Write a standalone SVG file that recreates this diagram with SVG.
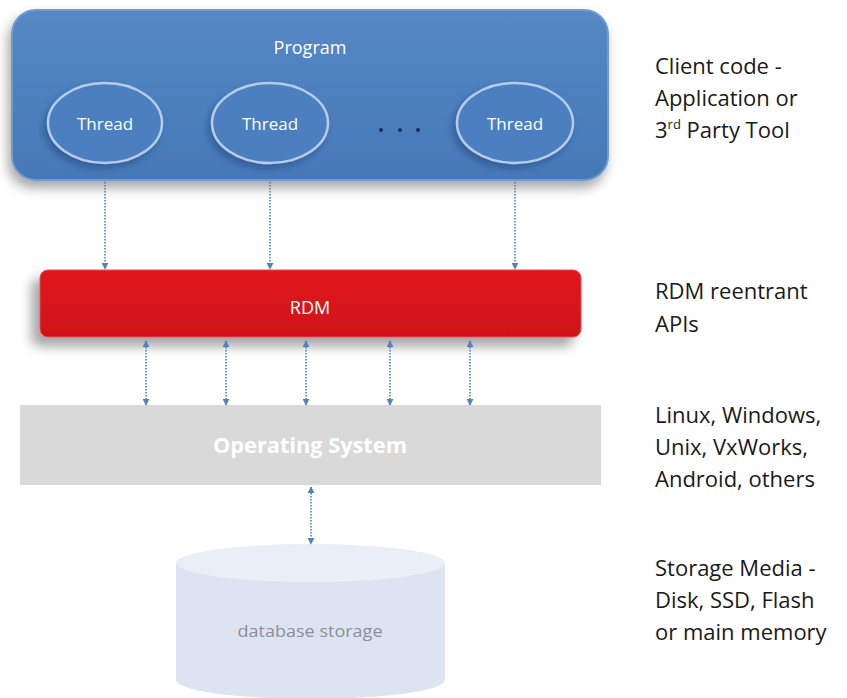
<svg xmlns="http://www.w3.org/2000/svg" width="847" height="698" viewBox="0 0 847 698">
<defs>
<style>
.lbl{font-family:"Open Sans","Liberation Sans",Arial,sans-serif;font-size:22px;fill:#1a1a1a}
.inn{font-family:"Open Sans","Liberation Sans",sans-serif;fill:#ffffff;text-anchor:middle}
.con{stroke:#4f81bd;stroke-width:1.6;stroke-dasharray:1.5 1.5;fill:none}
</style>
<linearGradient id="gBlue" x1="0" y1="0" x2="0" y2="1">
<stop offset="0" stop-color="#5589c6"/>
<stop offset="1" stop-color="#4677b6"/>
</linearGradient>
<linearGradient id="gRed" x1="0" y1="0" x2="0" y2="1">
<stop offset="0" stop-color="#e0181f"/>
<stop offset="1" stop-color="#cf1118"/>
</linearGradient>
<filter id="sh" x="-10%" y="-20%" width="120%" height="150%">
<feDropShadow dx="-3" dy="7" stdDeviation="6" flood-color="#000" flood-opacity="0.35"/>
</filter>
<filter id="shR" x="-10%" y="-30%" width="120%" height="180%">
<feDropShadow dx="-8" dy="9" stdDeviation="6" flood-color="#000" flood-opacity="0.35"/>
</filter>
<filter id="shT" x="-20%" y="-20%" width="140%" height="150%">
<feDropShadow dx="-3" dy="4" stdDeviation="3" flood-color="#1d3e6a" flood-opacity="0.45"/>
</filter>
<marker id="ah" viewBox="0 0 10 10" refX="9" refY="5" markerWidth="7" markerHeight="7" orient="auto-start-reverse" markerUnits="userSpaceOnUse">
<path d="M0,0 L10,5 L0,10 z" fill="#4f81bd"/>
</marker>
</defs>
<rect width="847" height="698" fill="#ffffff"/>

<g id="program">
<rect x="12" y="10" width="596" height="170" rx="24" fill="url(#gBlue)" stroke="#6f9bd2" stroke-width="2" filter="url(#sh)"/>
<text class="inn" x="310" y="54" font-size="18">Program</text>
</g>
<g id="thread1">
<ellipse cx="105" cy="123" rx="57" ry="40" fill="#4c7fbf" stroke="#b5cdea" stroke-width="2.5" filter="url(#shT)"/>
<text class="inn" x="105" y="130" font-size="17">Thread</text>
</g>
<g id="thread2">
<ellipse cx="270" cy="123" rx="58" ry="40" fill="#4c7fbf" stroke="#b5cdea" stroke-width="2.5" filter="url(#shT)"/>
<text class="inn" x="270" y="130" font-size="17">Thread</text>
</g>
<g id="dots">
<circle cx="381" cy="130" r="2" fill="#1f2f55"/>
<circle cx="400" cy="130" r="2" fill="#1f2f55"/>
<circle cx="418" cy="130" r="2" fill="#1f2f55"/>
</g>
<g id="thread3">
<ellipse cx="515" cy="123" rx="58" ry="40" fill="#4c7fbf" stroke="#b5cdea" stroke-width="2.5" filter="url(#shT)"/>
<text class="inn" x="515" y="130" font-size="17">Thread</text>
</g>

<g id="rdm">
<rect x="40" y="270" width="541" height="67" rx="8" fill="url(#gRed)" stroke="#e84a50" stroke-width="1" filter="url(#shR)"/>
<text class="inn" x="310" y="314" font-size="18">RDM</text>
</g>

<g id="os">
<rect x="20" y="405" width="581" height="80" fill="#d9d9d9"/>
<text class="inn" x="310" y="453" font-size="22" font-weight="bold" fill="#f2f2f2" textLength="194" lengthAdjust="spacingAndGlyphs">Operating System</text>
</g>

<g id="storage">
<path d="M176,563 L176,680 A134.5,19 0 0 0 445,680 L445,563 Z" fill="#dde4f1"/>
<ellipse cx="310.5" cy="563" rx="134.5" ry="19" fill="#e9eef7"/>
<text x="310" y="637" font-family="Open Sans,Liberation Sans,sans-serif" font-size="17" fill="#8a8f99" text-anchor="middle" textLength="145" lengthAdjust="spacingAndGlyphs">database storage</text>
</g>

<g id="connectors">
<line class="con" x1="105" y1="182" x2="105" y2="269" marker-end="url(#ah)"/>
<line class="con" x1="270" y1="182" x2="270" y2="269" marker-end="url(#ah)"/>
<line class="con" x1="515" y1="182" x2="515" y2="269" marker-end="url(#ah)"/>
<line class="con" x1="146" y1="341" x2="146" y2="405" marker-start="url(#ah)" marker-end="url(#ah)"/>
<line class="con" x1="226" y1="341" x2="226" y2="405" marker-start="url(#ah)" marker-end="url(#ah)"/>
<line class="con" x1="306" y1="341" x2="306" y2="405" marker-start="url(#ah)" marker-end="url(#ah)"/>
<line class="con" x1="390" y1="341" x2="390" y2="405" marker-start="url(#ah)" marker-end="url(#ah)"/>
<line class="con" x1="470" y1="341" x2="470" y2="405" marker-start="url(#ah)" marker-end="url(#ah)"/>
<line class="con" x1="311" y1="487" x2="311" y2="544" marker-start="url(#ah)" marker-end="url(#ah)"/>
</g>

<g id="labels">
<text class="lbl" x="655" y="74">Client code -</text>
<text class="lbl" x="655" y="106">Application or</text>
<text class="lbl" x="655" y="138">3<tspan font-size="13" dy="-9">rd</tspan><tspan dy="9"> Party Tool</tspan></text>
<text class="lbl" x="655" y="299">RDM reentrant</text>
<text class="lbl" x="655" y="332">APIs</text>
<text class="lbl" x="655" y="423">Linux, Windows,</text>
<text class="lbl" x="655" y="455">Unix, VxWorks,</text>
<text class="lbl" x="655" y="487">Android, others</text>
<text class="lbl" x="655" y="576">Storage Media -</text>
<text class="lbl" x="655" y="608">Disk, SSD, Flash</text>
<text class="lbl" x="655" y="640">or main memory</text>
</g>
</svg>
